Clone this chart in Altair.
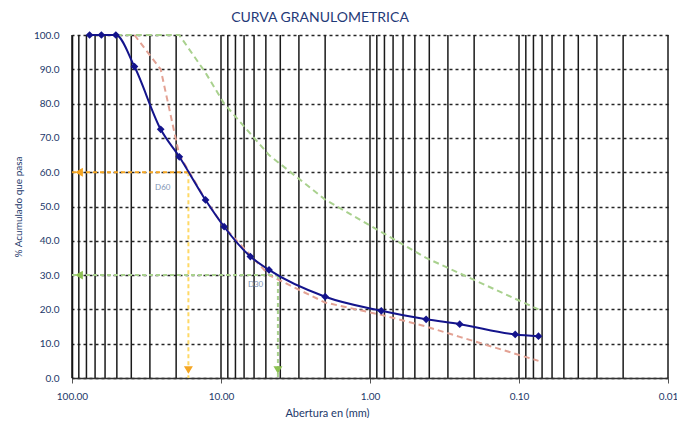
import altair as alt
import pandas as pd

# Blue curve: sieve opening (mm) and % passing
sieve_mm = [76.2, 63.5, 50.8, 38.1, 25.4, 19.05, 12.7, 9.525, 6.35, 4.76, 2.0, 0.84, 0.42, 0.25, 0.106, 0.074]
passing = [100, 100, 100, 90.8, 72.5, 64.5, 51.9, 44.1, 35.4, 31.5, 23.7, 19.6, 17.1, 15.7, 12.7, 12.2]

# Red dashed limit
red_mm = [38.1, 25.4, 19.05, 12.7, 9.525, 4.76, 2.0, 0.84, 0.42, 0.25, 0.074]
red_pass = [100, 90, 65, 52, 44, 30, 22, 18.4, 15, 12, 5]

# Green dashed limit
green_mm = [50.8, 38.1, 25.4, 19.05, 12.7, 9.525, 4.76, 2.0, 0.42, 0.074]
green_pass = [100, 100, 100, 100, 89, 80, 65, 52, 35, 20]

# D60 / D30
d60 = 16.55
d30 = 4.15
d_labels = ["D60", "D30"]
d_label_x = [24.6, 5.86]
d_label_y = [55.5, 27.1]

# Log grid lines and axis values
grid_x = [0.01, 0.02, 0.03, 0.04, 0.05, 0.06, 0.07, 0.08, 0.09,
          0.1, 0.2, 0.3, 0.4, 0.5, 0.6, 0.7, 0.8, 0.9,
          1, 2, 3, 4, 5, 6, 7, 8, 9,
          10, 20, 30, 40, 50, 60, 70, 80, 90, 100]
x_major = [100, 10, 1, 0.1, 0.01]
y_ticks = [0, 10, 20, 30, 40, 50, 60, 70, 80, 90, 100]

FONT = "Lato"
TXT = "#22386a"

xaxis = alt.Axis(values=x_major, format=".2f", grid=False, title="Abertura en (mm)",
                 labelFont=FONT, labelFontSize=10, labelColor=TXT, labelPadding=8,
                 tickSize=5, tickColor="#555", domainColor="#333", domainWidth=1.5,
                 titleFont=FONT, titleFontSize=11, titleFontWeight="normal", titleColor=TXT,
                 titleX=255, titleY=29, labelOverlap=False, labelFlush=False)
yaxis = alt.Axis(values=y_ticks, format=".1f", grid=True, gridColor="#000", gridDash=[3, 3],
                 gridWidth=1.3, gridOpacity=0.85, title="% Acumulado que pasa",
                 labelFont=FONT, labelFontSize=10, labelColor=TXT, labelPadding=13,
                 ticks=False, domainColor="#000", domainWidth=1.5,
                 titleFont=FONT, titleFontSize=10, titleFontWeight="normal", titleColor=TXT,
                 titlePadding=10)

xs = alt.Scale(type="log", domain=[0.01, 100], reverse=True)
ys = alt.Scale(domain=[0, 100])

def X(field="d"):
    return alt.X(f"{field}:Q", scale=xs, axis=xaxis)

def Y(field="p"):
    return alt.Y(f"{field}:Q", scale=ys, axis=yaxis)

grid = alt.Chart(pd.DataFrame({"d": grid_x})).mark_rule(color="#1a1a1a", strokeWidth=1.5).encode(x=X())

red = alt.Chart(pd.DataFrame({"d": red_mm, "p": red_pass})).mark_line(
    color="#e3a294", strokeWidth=2, strokeDash=[6, 4]).encode(x=X(), y=Y())
green = alt.Chart(pd.DataFrame({"d": green_mm, "p": green_pass})).mark_line(
    color="#a9d18e", strokeWidth=2, strokeDash=[6, 4]).encode(x=X(), y=Y())

h60 = alt.Chart(pd.DataFrame({"d": [100], "d2": [d60], "p": [60]})).mark_rule(
    color="#f5a623", strokeWidth=2, strokeDash=[4, 3]).encode(x=X(), x2="d2:Q", y=Y())
v60 = alt.Chart(pd.DataFrame({"d": [d60], "p": [60], "p2": [0]})).mark_rule(
    color="#ffd966", strokeWidth=2, strokeDash=[4, 3]).encode(x=X(), y=Y(), y2="p2:Q")
h30 = alt.Chart(pd.DataFrame({"d": [100], "d2": [d30], "p": [30]})).mark_rule(
    color="#a9d18e", strokeWidth=2, strokeDash=[4, 3]).encode(x=X(), x2="d2:Q", y=Y())
v30 = alt.Chart(pd.DataFrame({"d": [d30], "p": [30], "p2": [0]})).mark_rule(
    color="#a9d18e", strokeWidth=2, strokeDash=[4, 3]).encode(x=X(), y=Y(), y2="p2:Q")

arr_left = alt.Chart(pd.DataFrame({"d": [100, 100], "p": [60, 30], "c": ["#f5a623", "#8cc152"]})).mark_point(
    shape="triangle-left", filled=True, size=80, opacity=1, xOffset=7).encode(
    x=X(), y=Y(), color=alt.Color("c:N", scale=None))
arr_down = alt.Chart(pd.DataFrame({"d": [d60, d30], "p": [0, 0], "c": ["#f5a623", "#8cc152"]})).mark_point(
    shape="triangle-down", filled=True, size=80, opacity=1, yOffset=-8).encode(
    x=X(), y=Y(), color=alt.Color("c:N", scale=None))

dtext = alt.Chart(pd.DataFrame({"d": d_label_x, "p": d_label_y, "t": d_labels})).mark_text(
    font=FONT, fontSize=8, color="#7f95b5").encode(x=X(), y=Y(), text="t:N")

blue = alt.Chart(pd.DataFrame({"d": sieve_mm, "p": passing})).mark_line(
    color="#14148c", strokeWidth=2, interpolate="monotone",
    point=alt.OverlayMarkDef(shape="diamond", filled=True, size=60, color="#14148c", opacity=1)
).encode(x=X(), y=Y())

chart = alt.layer(grid, red, green, h60, v60, h30, v30, arr_left, arr_down, dtext, blue).properties(
    width=596, height=343,
    padding={"left": 64, "top": 27, "right": 9, "bottom": 40},
    autosize=alt.AutoSizeParams(type="none"),
    title=alt.TitleParams("CURVA GRANULOMETRICA", font=FONT, fontSize=14, fontWeight="normal",
                          color="#1f3a78", anchor="middle", dx=-50, offset=5),
).configure_view(stroke=None)

chart.save("out.html", embed_options={"renderer": "svg", "actions": False})
